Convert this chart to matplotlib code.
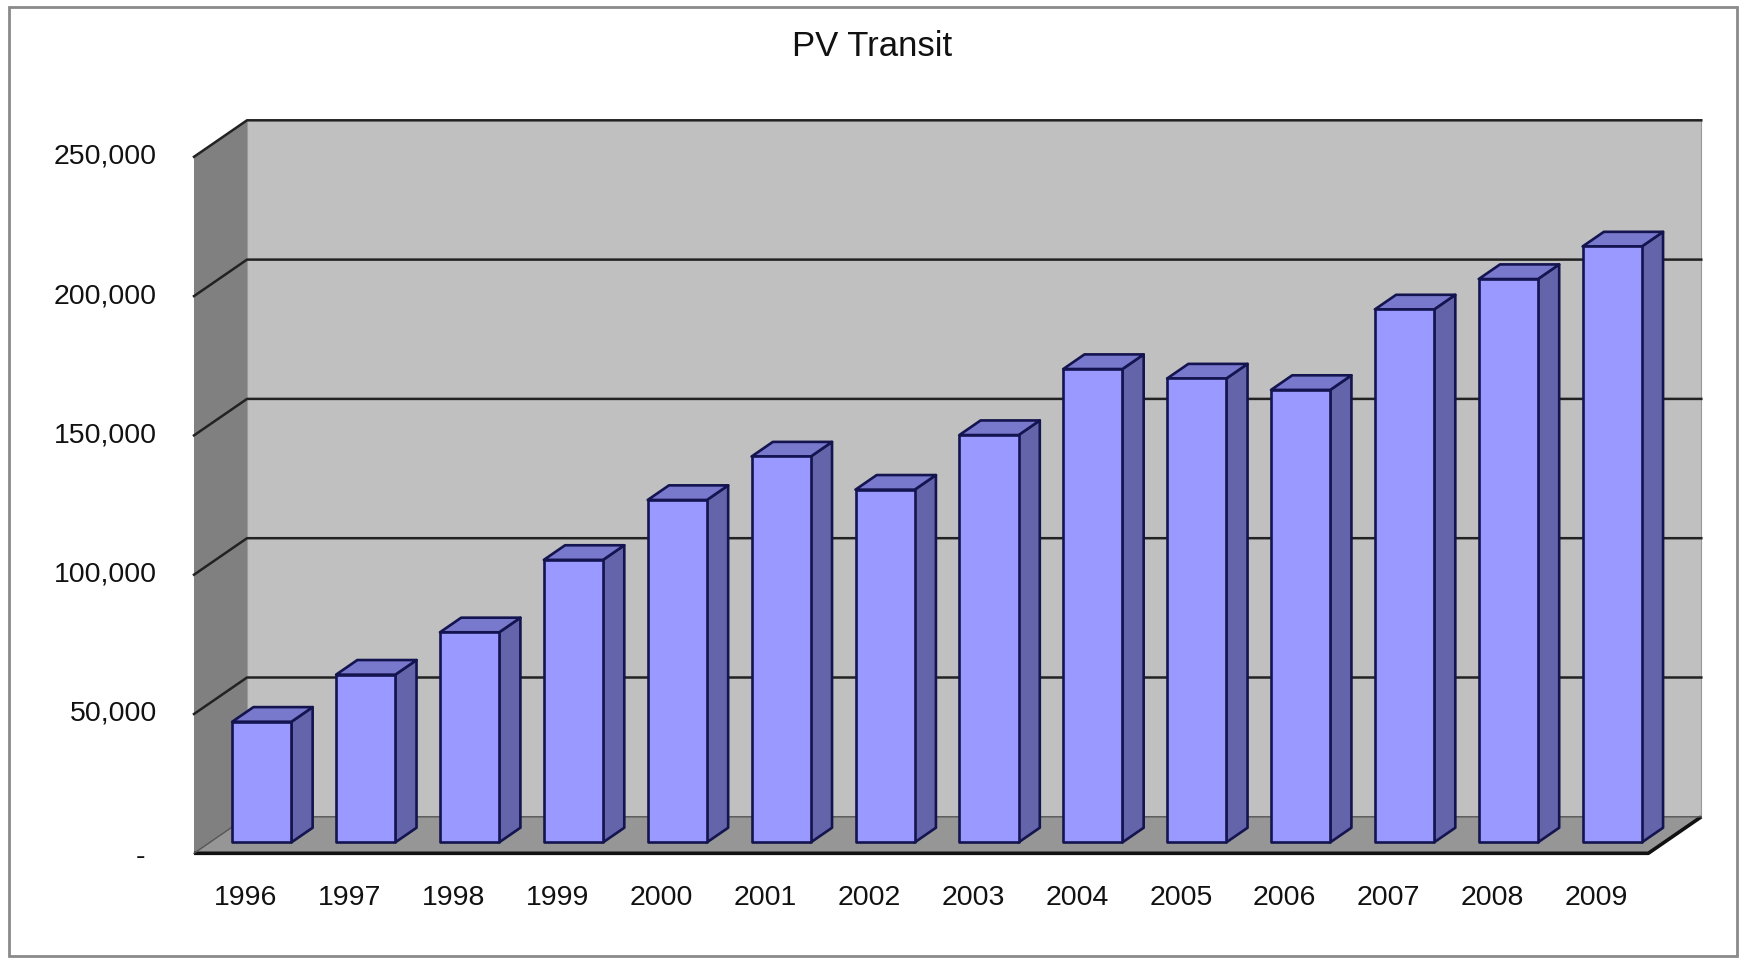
import matplotlib
matplotlib.use("Agg")
import matplotlib.pyplot as plt
from matplotlib.patches import Polygon, Rectangle

# ---- data -------------------------------------------------------------
years = ["1996", "1997", "1998", "1999", "2000", "2001", "2002",
         "2003", "2004", "2005", "2006", "2007", "2008", "2009"]
riders = [43300, 60200, 75400, 101400, 122900, 138500, 126600,
          146200, 169900, 166500, 162400, 191300, 202200, 213900]
y_ticks = [0, 50000, 100000, 150000, 200000, 250000]
y_tick_labels = ["-", "50,000", "100,000", "150,000", "200,000", "250,000"]
title = "PV Transit"

# ---- layout (pixels, figure is 1741 x 959) ----------------------------
W, H, DPI = 1741, 959, 100
floor_left_px, floor_right_px = 194.0, 1648.3     # front edge of the floor
zero_px = 853.3                                   # front zero line, from top
px_per_value = 139.3 / 50000.0
depth_dx_px, depth_dy_px = 53.0, 36.5             # oblique depth offset

n = len(years)
px_per_cat = (floor_right_px - floor_left_px) / n

fig = plt.figure(figsize=(W / DPI, H / DPI), dpi=DPI)
fig.patch.set_facecolor("white")
ax = fig.add_axes([0, 0, 1, 1])
ax.set_axis_off()
# data x = category units (front plane), data y = value units (front plane)
ax.set_xlim(-floor_left_px / px_per_cat, (W - floor_left_px) / px_per_cat)
ax.set_ylim(-(H - zero_px) / px_per_value, zero_px / px_per_value)

DX = depth_dx_px / px_per_cat
DY = depth_dy_px / px_per_value
vmax = y_ticks[-1]

FONT = "Liberation Sans"
wall_back = "#c0c0c0"
wall_side = "#808080"
floor_col = "#969696"
grid_col = "#222222"

# chart area border
fig.patches.append(Rectangle((9 / W, 3 / H), 1728 / W, 949 / H,
                             transform=fig.transFigure, fill=False,
                             edgecolor="#8a8a8a", linewidth=2.0))

# back wall
ax.add_patch(Polygon([(DX, DY), (n + DX, DY), (n + DX, vmax + DY), (DX, vmax + DY)],
                     closed=True, facecolor=wall_back, edgecolor="#9a9a9a",
                     linewidth=0.8, zorder=1))
# side wall
ax.add_patch(Polygon([(0, 0), (DX, DY), (DX, vmax + DY), (0, vmax)],
                     closed=True, facecolor=wall_side, edgecolor="none", zorder=1))
# floor
ax.add_patch(Polygon([(0, 0), (n, 0), (n + DX, DY), (DX, DY)],
                     closed=True, facecolor=floor_col, edgecolor="none", zorder=2))
ax.plot([0, n, n + DX], [0, 0, DY], color="#111111", linewidth=2.6,
        solid_capstyle="butt", zorder=3)
ax.plot([0, DX, n + DX], [0, DY, DY], color="#555555", linewidth=1.0, zorder=3)

# gridlines on back and side walls
for v in y_ticks[1:]:
    ax.plot([0, DX, n + DX], [v, v + DY, v + DY], color=grid_col,
            linewidth=1.8, zorder=3)

# 3-D columns
bar_w = 0.57
d0, d1 = 0.3, 0.7
front_c = "#9999ff"
side_c = "#6464aa"
top_c = "#7878cc"
edge_c = "#141450"
for i, v in enumerate(riders):
    x0 = i + (1 - bar_w) / 2 + d0 * DX
    x1 = x0 + bar_w
    yb = d0 * DY
    yt = v + d0 * DY
    ox, oy = (d1 - d0) * DX, (d1 - d0) * DY
    ax.add_patch(Polygon([(x1, yb), (x1 + ox, yb + oy), (x1 + ox, yt + oy), (x1, yt)],
                         closed=True, facecolor=side_c, edgecolor=edge_c,
                         linewidth=1.9, joinstyle="round", zorder=5))
    ax.add_patch(Polygon([(x0, yt), (x1, yt), (x1 + ox, yt + oy), (x0 + ox, yt + oy)],
                         closed=True, facecolor=top_c, edgecolor=edge_c,
                         linewidth=1.9, joinstyle="round", zorder=5))
    ax.add_patch(Polygon([(x0, yb), (x1, yb), (x1, yt), (x0, yt)],
                         closed=True, facecolor=front_c, edgecolor=edge_c,
                         linewidth=1.9, joinstyle="round", zorder=6))

# value axis labels (aligned to the front plane)
lab_x = (157 - floor_left_px) / px_per_cat
for v, s in zip(y_ticks, y_tick_labels):
    if s == "-":
        ax.text((145 - floor_left_px) / px_per_cat, v - 4 / px_per_value, s,
                ha="right", va="center", fontsize=20.5, family=FONT, color="#111111")
    else:
        ax.text(lab_x, v, s, ha="right", va="center", fontsize=20.5,
                family=FONT, color="#111111")

# category labels
lab_y = -(898 - zero_px) / px_per_value
for i, s in enumerate(years):
    ax.text(i + 0.5, lab_y, s, ha="center", va="center", fontsize=20.5,
            family=FONT, color="#111111")

fig.text(872.5 / W, 1 - 46 / H, title, ha="center", va="center",
         fontsize=25, family=FONT, color="#111111")

fig.savefig("out.png", dpi=DPI, facecolor="white")
